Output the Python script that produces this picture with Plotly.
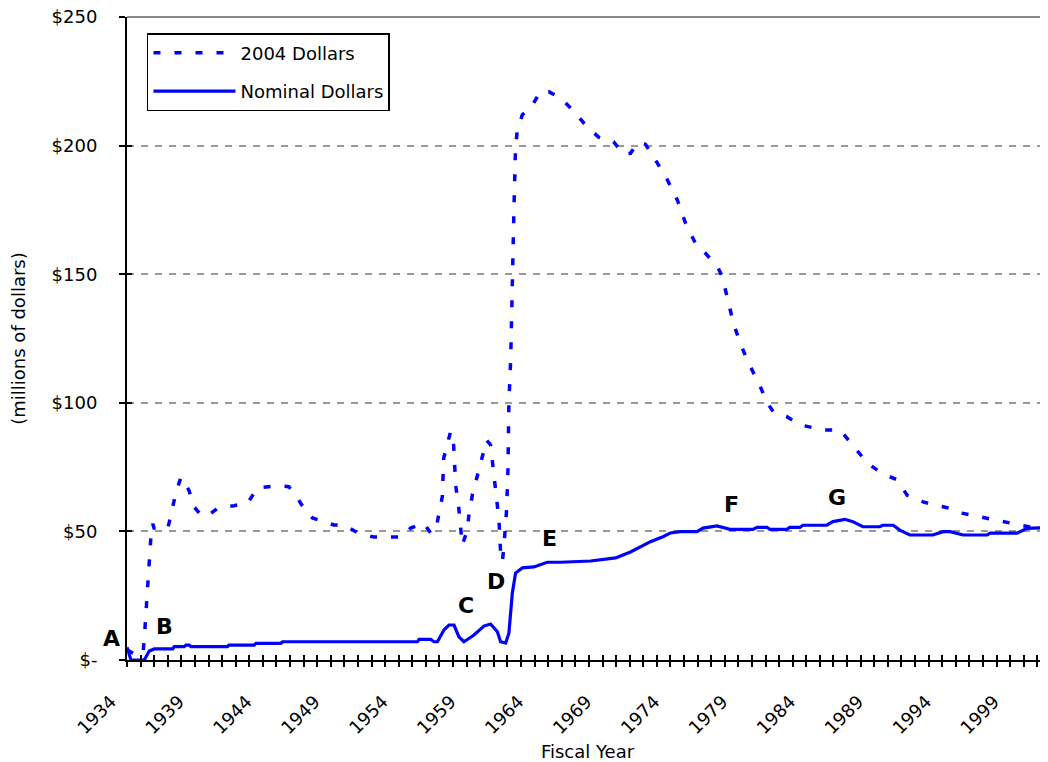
import plotly.graph_objects as go

# ---- data ----
real_years = [1934.0, 1934.66, 1935.18, 1935.27, 1935.52, 1935.64, 1935.76, 1935.89, 1935.99, 1937.01,
              1937.24, 1937.6, 1937.97, 1938.56, 1938.93, 1939.44, 1939.93, 1940.67, 1941.87, 1942.88,
              1943.61, 1945.08, 1945.91, 1946.55, 1947.01, 1947.65, 1949.22, 1949.96, 1950.99, 1952.16,
              1954.15, 1954.88, 1955.84, 1956.35, 1956.72, 1956.94, 1957.21, 1957.31, 1957.82, 1958.04,
              1958.19, 1958.41, 1958.56, 1958.68, 1959.05, 1959.15, 1959.42, 1959.79, 1960.15, 1960.47,
              1960.76, 1960.89, 1961.01, 1961.21, 1961.38, 1961.5, 1961.63, 1961.74, 1961.94, 1962.04,
              1962.07, 1962.11, 1962.24, 1962.36, 1962.48, 1962.6, 1962.73, 1963.1, 1963.71, 1964.44,
              1965.03, 1965.91, 1966.77, 1967.75, 1968.71, 1969.81, 1970.54, 1971.06, 1971.57, 1972.16,
              1972.75, 1973.78, 1974.51, 1975.1, 1975.84, 1976.43, 1977.46, 1977.82, 1978.19, 1978.63,
              1979.15, 1979.74, 1980.47, 1981.13, 1981.57, 1982.6, 1983.56, 1985.25, 1986.5, 1987.46,
              1988.49, 1989.44, 1990.69, 1991.43, 1992.6, 1993.63, 1994.59, 1995.54, 1996.79, 1997.53,
              1998.49, 1999.51, 2000.47, 2001.79, 2002.5]
real_dollars = [4, 2, 2.5, 8, 28.5, 39, 48, 53, 51.3, 51.3,
                57, 65, 71, 66, 59.6, 56.4, 56, 59, 60, 61,
                67, 67.7, 67.4, 63, 59, 55.2, 52.5, 52.5, 49.4, 47.8,
                47.8, 51.3, 53.3, 49.4, 50.4, 55.7, 63.5, 78.5, 88.8, 83.6,
                68, 59.6, 51.8, 44.7, 50.5, 55.7, 64.2, 71.3, 79, 85.5,
                83.6, 77.8, 70, 63, 54.4, 41.6, 38.2, 44, 58.3, 73.9,
                90.7, 100, 116.6, 150.5, 175, 199.6, 206, 212, 214.6, 221,
                221, 218.5, 214, 208, 203.3, 201.5, 196.7, 197, 201, 200.5,
                195.7, 186.6, 178.8, 170, 162, 159, 153, 149, 141, 131,
                123, 115.5, 108, 100, 96.5, 94.5, 91.4, 89.4, 89.4, 83,
                76.6, 73, 70, 64, 61.5, 60, 59, 57, 55.6, 55,
                53.7, 52.5, 51.7, 51.3, 51.0]

nominal_years = [1934.0, 1934.29, 1935.27, 1935.64, 1936.01, 1937.36, 1937.48, 1938.21, 1938.34, 1938.58,
                 1938.71, 1941.4, 1941.5, 1943.36, 1943.49, 1945.32, 1945.45, 1955.38, 1955.49, 1956.35,
                 1956.6, 1956.85, 1957.33, 1957.7, 1958.07, 1958.43, 1958.8, 1959.54, 1960.27, 1960.76,
                 1961.26, 1961.5, 1961.87, 1962.11, 1962.36, 1962.6, 1963.1, 1963.95, 1964.93, 1965.91,
                 1968.12, 1969.96, 1971.06, 1971.79, 1972.53, 1973.49, 1974.0, 1974.71, 1975.96, 1976.4,
                 1977.43, 1978.38, 1980.07, 1980.37, 1981.1, 1981.32, 1982.57, 1982.79, 1983.53, 1983.75,
                 1985.51, 1985.96, 1986.84, 1987.43, 1988.16, 1989.41, 1989.63, 1990.4, 1990.88, 1991.62,
                 1993.31, 1994.07, 1994.59, 1995.54, 1997.31, 1997.53, 1999.51, 2000.25, 2001.72, 2002.5]
nominal_dollars = [5, 0, 0, 3.5, 4.3, 4.3, 5.2, 5.2, 5.8, 5.8,
                   5.2, 5.2, 5.8, 5.8, 6.5, 6.5, 7.1, 7.1, 8, 8,
                   7.1, 7.1, 11.7, 13.6, 13.6, 9, 7.1, 9.7, 13.2, 14,
                   11, 7.1, 6.6, 10.4, 26, 33.8, 35.8, 36.2, 38, 38,
                   38.5, 39.7, 42, 44, 46, 48, 49.4, 49.9, 49.9, 51.3,
                   52.1, 50.8, 50.8, 51.6, 51.6, 50.8, 50.8, 51.6, 51.6, 52.4,
                   52.4, 53.8, 54.7, 53.8, 51.8, 51.8, 52.4, 52.4, 50.5, 48.6,
                   48.6, 49.9, 49.9, 48.6, 48.6, 49.3, 49.3, 51.2, 51.6, 51.6]

y_tick_values = [0, 50, 100, 150, 200, 250]
y_tick_labels = ["$-", "$50", "$100", "$150", "$200", "$250"]

point_labels = ["A", "B", "C", "D", "E", "F", "G"]
point_label_years = [1934.0, 1936.74, 1958.97, 1961.18, 1965.13, 1978.51, 1986.23]
point_label_values = [8.5, 13.2, 21.0, 30.4, 47.4, 60.3, 63.0]
point_label_xshift = [-16, 0, 0, 0, 0, 0, 0]

FONT = "DejaVu Sans"
BLUE = "#0000FF"

fig = go.Figure()
fig.add_trace(go.Scatter(x=real_years, y=real_dollars, mode="lines", name="2004 Dollars",
                         line=dict(color=BLUE, width=3.5, dash="7px,14px"), legendgroup="a"))
fig.add_trace(go.Scatter(x=nominal_years, y=nominal_dollars, mode="lines", name="Nominal Dollars",
                         line=dict(color=BLUE, width=3.2), legendgroup="b"))
# empty helper trace so the overlay axes (inner half of the crossing ticks) are drawn
fig.add_trace(go.Scatter(x=[], y=[], xaxis="x2", yaxis="y2", showlegend=False, hoverinfo="skip"))

for t, xx, yy, xs in zip(point_labels, point_label_years, point_label_values, point_label_xshift):
    fig.add_annotation(x=xx, y=yy, xshift=xs, text="<b>%s</b>" % t, showarrow=False,
                       font=dict(family=FONT, size=22, color="black"))

# the page body adds an 8px offset, so the figure is 1040 wide with matching margins
x_range = [1934, 2001.79]
fig.update_layout(
    width=1040, height=754,
    margin=dict(l=119, r=0, t=9, b=102),
    paper_bgcolor="white", plot_bgcolor="white",
    font=dict(family=FONT, size=18, color="black"),
    showlegend=True,
    legend=dict(x=0.0217, y=0.975, xanchor="left", yanchor="top",
                bordercolor="black", borderwidth=1.5, bgcolor="white",
                font=dict(family=FONT, size=18, color="black"),
                itemwidth=82, tracegroupgap=12),
    xaxis=dict(range=x_range, tick0=1934, dtick=5, ticks="outside", ticklen=5, tickwidth=2,
               tickcolor="black", showline=True, linecolor="black", linewidth=2,
               showgrid=False, zeroline=False, tickangle=-45, automargin=False,
               ticklabelstandoff=17, ticklabelshift=-16, ticklabeloverflow="allow",
               tickfont=dict(family=FONT, size=18, color="black"),
               minor=dict(dtick=1, tick0=1934, ticks="outside", ticklen=5, tickwidth=2,
                          tickcolor="black", showgrid=False),
               title=dict(text="Fiscal Year", font=dict(family=FONT, size=18), standoff=15)),
    xaxis2=dict(range=x_range, overlaying="x", anchor="y2", side="bottom", dtick=1, tick0=1934,
                ticks="inside", ticklen=5, tickwidth=2, tickcolor="black", automargin=False,
                showticklabels=False, showgrid=False, zeroline=False, showline=False),
    yaxis=dict(range=[0, 250], tickvals=y_tick_values, ticktext=y_tick_labels,
               ticks="outside", ticklen=6, tickwidth=2, tickcolor="black",
               showline=True, linecolor="black", linewidth=2, zeroline=False, automargin=False,
               showgrid=True, gridcolor="#999999", gridwidth=1.5, griddash="7px,7px",
               ticklabelstandoff=18, ticklabeloverflow="allow",
               tickfont=dict(family=FONT, size=18, color="black"),
               title=dict(text="(millions of dollars)", font=dict(family=FONT, size=18), standoff=22)),
    yaxis2=dict(range=[0, 250], overlaying="y", anchor="x2", side="left", tickvals=y_tick_values,
                ticks="inside", ticklen=5, tickwidth=2, tickcolor="black", automargin=False,
                showticklabels=False, showgrid=False, zeroline=False, showline=False),
)
# solid grey top border of the plot area
fig.add_shape(type="line", xref="paper", yref="paper", x0=0, x1=1, y0=1, y1=1,
              line=dict(color="#888888", width=2), layer="above")

fig.write_html("out.html")
